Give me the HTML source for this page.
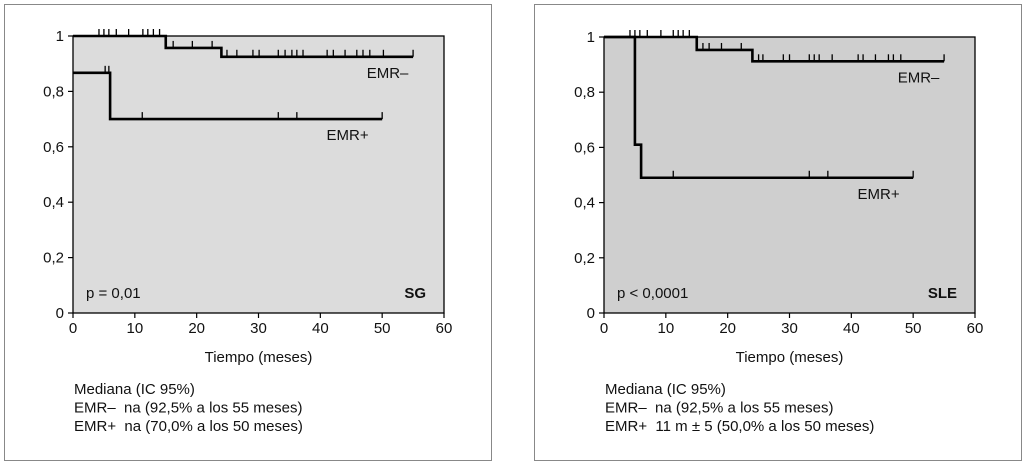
<!DOCTYPE html>
<html><head><meta charset="utf-8">
<style>
body{margin:0;background:#fff;width:1024px;height:466px;overflow:hidden;font-family:"Liberation Sans",Arial,sans-serif;}
svg text{font-family:"Liberation Sans",Arial,sans-serif;white-space:pre;}
</style></head>
<body>
<svg id="chart" width="1024" height="466" viewBox="0 0 1024 466" xmlns="http://www.w3.org/2000/svg"></svg>
<script>
// ---- Data ----
const xTicks = [0,10,20,30,40,50,60];
const yTicks = [0,0.2,0.4,0.6,0.8,1];
const yTickLabels = ["0","0,2","0,4","0,6","0,8","1"];
// Left (SG)
const sgNegSteps = [[0,1],[15,0.957],[24,0.925],[55,0.925]];
const sgNegCensor = [4.2,5,5.8,7,9,11.3,12.1,13,14,15,16.2,19.3,22.5,24,24.9,26.5,29.1,30.1,33.2,34.3,35.4,36.2,37.2,41.1,42.1,44,45.9,46.9,48,50.2,55];
const sgPosSteps = [[0,0.867],[6,0.70],[50,0.70]];
const sgPosCensor = [5.2,5.8,11.2,33.2,36.2,50];
// Right (SLE)
const sleNegSteps = [[0,1],[15,0.953],[24,0.912],[55,0.912]];
const sleNegCensor = [4.2,5,5.8,7,9.2,11.2,12,12.8,13.8,15,16,17,19,22.2,24,25,25.7,29,30,33.2,34,34.8,36.9,41.1,41.9,43.9,46,46.8,48,55];
const slePosSteps = [[0,1],[5,0.61],[6,0.49],[50,0.49]];
const slePosCensor = [6,11.2,33.2,36.2,50];

const NS="http://www.w3.org/2000/svg";
const svg=document.getElementById('chart');
function mk(tag,attrs,parent){const e=document.createElementNS(NS,tag);for(const k in attrs)e.setAttribute(k,attrs[k]);(parent||svg).appendChild(e);return e;}

function panel(cfg){
  const g=mk('g',{});
  
  
  const x0=cfg.x0,x1=cfg.x0+371,yTop=cfg.yTop,yBot=313;
  const xs=v=>x0+(v/60)*(x1-x0);
  const ys=v=>yBot-v*(yBot-yTop);
  const border=mk('rect',{x:cfg.bx,y:4.5,width:487,height:456,fill:'none',stroke:'#888','stroke-width':1},g);
  
  
  const bg=mk('rect',{x:x0,y:yTop,width:x1-x0,height:yBot-yTop,fill:cfg.fill,stroke:'#000','stroke-width':1.3},g);
  
  
  xTicks.forEach(t=>{
    mk('line',{x1:xs(t),x2:xs(t),y1:yBot,y2:yBot+5,stroke:'#000','stroke-width':1.2},g);
    const tx=mk('text',{x:xs(t),y:yBot+20,'font-size':15,'text-anchor':'middle',fill:'#111'},g);
    tx.textContent=t;
    
    
  });
  yTicks.forEach((t,i)=>{
    mk('line',{x1:x0-5,x2:x0,y1:ys(t),y2:ys(t),stroke:'#000','stroke-width':1.2},g);
    const tx=mk('text',{x:x0-9,y:ys(t)+5,'font-size':15,'text-anchor':'end',fill:'#111'},g);
    tx.textContent=yTickLabels[i];
    
    
  });
  const xt=mk('text',{x:(x0+x1)/2,y:yBot+49,'font-size':15,'text-anchor':'middle',fill:'#111'},g);
  xt.textContent='Tiempo (meses)';
  
  
  function curve(steps,cens,nm){
    let d='M'+xs(steps[0][0])+','+ys(steps[0][1]);
    for(let i=1;i<steps.length;i++){d+=' H'+xs(steps[i][0])+' V'+ys(steps[i][1]);}
    const p=mk('path',{d:d,fill:'none',stroke:'#000','stroke-width':2.6},g);
    
    
    cens.forEach(c=>{
      let s=steps[0][1];
      for(let i=0;i<steps.length;i++){if(steps[i][0]<=c)s=steps[i][1];}
      const l=mk('line',{x1:xs(c),x2:xs(c),y1:ys(s),y2:ys(s)-7,stroke:'#000','stroke-width':1.3},g);
      
      
    });
  }
  curve(cfg.neg,cfg.negC,'emr-neg');
  curve(cfg.pos,cfg.posC,'emr-pos');
  const ln=mk('text',{x:xs(47.5),y:ys(cfg.neg[cfg.neg.length-1][1])+21,'font-size':15,fill:'#111'},g);
  ln.textContent='EMR\u2013';
  
  
  const lp=mk('text',{x:xs(41),y:ys(cfg.pos[cfg.pos.length-1][1])+21,'font-size':15,fill:'#111'},g);
  lp.textContent='EMR+';
  
  
  const pv=mk('text',{x:x0+13,y:298,'font-size':15,fill:'#111'},g);
  pv.textContent=cfg.p;
  
  
  const tt=mk('text',{x:x1-18,y:298,'font-size':15,'font-weight':'bold','text-anchor':'end',fill:'#111'},g);
  tt.textContent=cfg.title;
  
  
  cfg.notes.forEach((n,i)=>{
    const t=mk('text',{x:x0+1,y:394+i*18.5,'font-size':15,fill:'#111'},g);
    t.textContent=n;
    
    
  });
}
panel({name:'sg-panel',bx:4.5,x0:73,yTop:36,fill:'#dcdcdc',neg:sgNegSteps,negC:sgNegCensor,pos:sgPosSteps,posC:sgPosCensor,p:'p = 0,01',title:'SG',
  notes:['Mediana (IC 95%)','EMR\u2013  na (92,5% a los 55 meses)','EMR+  na (70,0% a los 50 meses)']});
panel({name:'sle-panel',bx:534.5,x0:604,yTop:37,fill:'#cfcfcf',neg:sleNegSteps,negC:sleNegCensor,pos:slePosSteps,posC:slePosCensor,p:'p < 0,0001',title:'SLE',
  notes:['Mediana (IC 95%)','EMR\u2013  na (92,5% a los 55 meses)','EMR+  11 m \u00b1 5 (50,0% a los 50 meses)']});
</script>
</body></html>
